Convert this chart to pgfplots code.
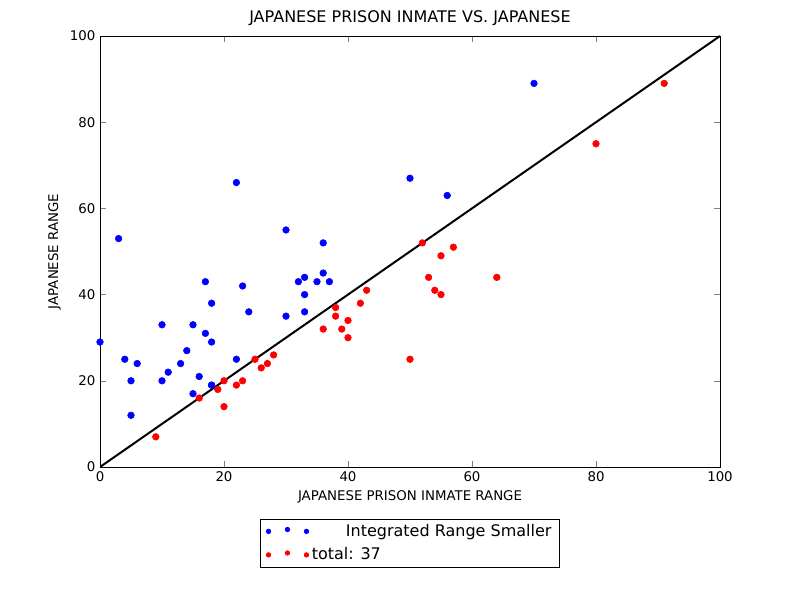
\documentclass[border=0pt]{standalone}
\usepackage{pgfplots}
\pgfplotsset{compat=1.18}
\usepackage{fontspec}
\setmainfont{DejaVu Sans}
\begin{document}
\begin{tikzpicture}
\path[use as bounding box] (0pt,0pt) rectangle (600pt,450pt);
\begin{axis}[at={(75pt,99.75pt)},anchor=south west,scale only axis,width=465pt,height=323.25pt,
xmin=0,xmax=100,ymin=0,ymax=100,
xtick={0,20,40,60,80,100},ytick={0,20,40,60,80,100},
tick align=inside,tick pos=both,
ticklabel style={font=\normalsize},
/pgf/number format/assume math mode=true,
title={JAPANESE PRISON INMATE VS. JAPANESE},title style={font=\large,yshift=-2pt},
xlabel={JAPANESE PRISON INMATE RANGE},ylabel={JAPANESE RANGE},
legend style={at={(0.5,-0.12)},anchor=north,font=\large,draw=black,legend cell align=left,row sep=3pt,inner xsep=4pt},
legend image code/.code={\fill (0.05cm,0) circle (2pt);\fill (0.55cm,0.05cm) circle (2pt);\fill (1.05cm,0) circle (2pt);},
legend entries={\hspace{0.9cm}Integrated Range Smaller, total: 37,\hspace{0.9cm}Integrated Range Larger, total: 29},
]
\addplot[only marks,mark=*,mark size=2.5pt,blue,draw=none] coordinates {
(0,29)(3,53)(4,25)(5,20)(5,12)(6,24)(10,33)(10,20)(11,22)(13,24)(14,27)(15,33)(15,17)(16,21)(17,43)(17,31)(18,38)(18,29)(18,19)(22,66)(22,25)(23,42)(24,36)(30,55)(30,35)(32,43)(33,44)(33,40)(33,36)(35,43)(36,45)(36,52)(37,43)(50,67)(56,63)(70,89)(18,19)};
\addplot[only marks,mark=*,mark size=2.5pt,red,draw=none] coordinates {
(9,7)(16,16)(19,18)(20,20)(20,14)(22,19)(23,20)(25,25)(26,23)(27,24)(28,26)(36,32)(38,37)(38,35)(39,32)(40,34)(40,30)(42,38)(43,41)(50,25)(52,52)(53,44)(54,41)(55,49)(55,40)(57,51)(64,44)(80,75)(91,89)};
\addplot[black,line width=1.5pt,forget plot] coordinates {(0,0)(100,100)};
\end{axis}
\end{tikzpicture}
\end{document}
